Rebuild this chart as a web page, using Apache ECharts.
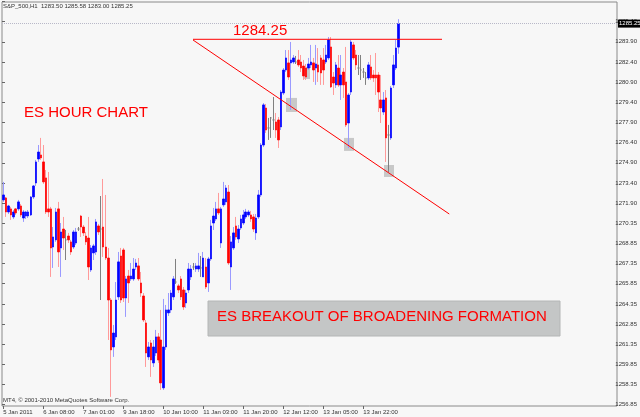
<!DOCTYPE html>
<html>
<head>
<meta charset="utf-8">
<script src="https://cdn.jsdelivr.net/npm/echarts@6/dist/echarts.min.js"></script>
<style>
html, body { margin: 0; padding: 0; background: #f7f7f7; }
#chart { width: 640px; height: 417px; }
</style>
</head>
<body>
<div id="chart"></div>
<script>
/* 时间轴标签，每16根K线一个 */
var xTickLabels = ['5 Jan 2011', '6 Jan 08:00', '7 Jan 01:00', '9 Jan 18:00', '10 Jan 10:00',
	'11 Jan 03:00', '11 Jan 20:00', '12 Jan 12:00', '13 Jan 05:00', '13 Jan 22:00'];
var barsPerLabel = 16;
var totalSlots = 246;

/* 价格轴标签（自下而上） */
var yTickLabels = ['1256.85', '1258.35', '1259.85', '1261.35', '1262.85', '1264.35', '1265.85',
	'1267.35', '1268.85', '1270.35', '1271.90', '1273.40', '1274.90', '1276.40', '1277.90',
	'1279.40', '1280.90', '1282.40', '1283.90', '1285.40'];

/* S&P_500 H1 */
var opens = [
	1272.11,1272.26,1271.21,1271.44,1270.84,1271.44,1271.44,1271.66,1270.76,1270.91,
	1270.91,1270.99,1272.33,1273.37,1275.16,1275.46,1274.94,1273.75,1271.44,1271.44,
	1268.60,1269.13,1271.44,1268.53,1269.94,1269.13,1269.42,1268.98,1268.60,1268.90,
	1269.94,1270.91,1270.09,1269.42,1269.27,1266.89,1268.16,1268.23,1270.17,1269.94,
	1270.09,1268.60,1267.78,1264.65,1261.15,1261.90,1264.88,1267.93,1268.38,1264.80,
	1266.44,1266.22,1266.22,1267.11,1267.19,1265.92,1264.95,1262.94,1260.41,1261.45,
	1259.96,1260.70,1261.90,1261.67,1258.10,1261.15,1263.69,1263.91,1264.88,1265.99,
	1265.70,1266.22,1265.40,1264.43,1265.40,1266.37,1267.11,1266.96,1266.96,1267.04,
	1266.37,1267.11,1265.92,1267.71,1270.39,1270.69,1271.44,1268.90,1271.74,1271.96,
	1272.70,1267.11,1268.53,1270.17,1269.20,1270.02,1270.39,1270.84,1270.99,1270.99,
	1270.84,1269.65,1270.84,1272.48,1276.20,1278.96,1277.47,1278.22,1278.07,1277.92,
	1278.07,1277.55,1280.08,1281.79,1282.32,1282.32,1282.39,1282.39,1282.54,1282.39,
	1282.09,1281.94,1281.94,1282.17,1282.32,1281.94,1282.17,1282.69,1282.54,1282.39,
	1282.69,1283.51,1281.27,1280.68,1281.94,1280.68,1281.64,1280.90,1277.84,1280.15,
	1283.66,1282.91,1281.94,1281.79,1281.64,1281.20,1281.20,1282.02,1281.42,1281.42,
	1281.42,1279.56,1278.66,1279.71,1276.95,1276.73,1280.68,1281.94,1283.50
];
var closes = [
	1272.48,1271.21,1271.66,1270.99,1271.21,1271.14,1271.96,1270.99,1271.21,1271.21,
	1271.21,1272.33,1273.15,1274.94,1275.68,1275.24,1273.45,1271.21,1271.21,1268.53,
	1269.35,1271.21,1268.23,1269.72,1269.27,1269.13,1269.13,1268.23,1269.72,1269.72,
	1269.94,1270.09,1269.65,1268.98,1267.11,1268.53,1268.68,1270.47,1269.72,1269.94,
	1268.60,1267.78,1264.65,1260.93,1262.19,1264.65,1267.49,1264.65,1264.80,1266.22,
	1265.92,1266.44,1266.96,1267.41,1266.22,1265.17,1263.16,1260.70,1261.15,1260.18,
	1261.15,1261.90,1260.18,1258.47,1261.15,1263.91,1263.91,1265.17,1266.22,1265.99,
	1265.40,1264.88,1264.13,1265.17,1266.96,1266.96,1267.11,1267.19,1267.19,1267.04,
	1267.78,1265.62,1267.71,1270.17,1270.91,1271.44,1271.14,1271.44,1272.18,1273.00,
	1267.41,1268.98,1269.65,1269.35,1269.94,1270.69,1270.99,1271.21,1271.21,1270.69,
	1269.94,1270.76,1272.48,1276.20,1279.19,1277.32,1277.47,1278.22,1278.07,1277.32,
	1276.58,1280.15,1281.79,1282.69,1281.27,1282.54,1282.69,1282.39,1282.17,1281.94,
	1281.35,1281.27,1282.24,1282.39,1281.79,1282.24,1281.64,1281.57,1281.79,1282.91,
	1284.03,1280.53,1280.82,1282.17,1280.68,1281.42,1280.68,1277.70,1279.93,1283.88,
	1282.69,1282.17,1281.94,1281.79,1281.64,1281.20,1282.17,1281.20,1281.20,1281.20,
	1280.15,1278.96,1279.56,1276.73,1276.95,1280.45,1282.17,1283.43,1285.25
];
var lows = [
	1271.96,1270.84,1271.06,1270.62,1270.69,1270.99,1271.29,1270.84,1270.47,1270.69,
	1270.76,1270.91,1272.18,1273.15,1274.94,1275.09,1273.30,1271.06,1270.84,1266.37,
	1267.04,1268.98,1267.11,1266.37,1268.38,1267.63,1268.90,1268.01,1268.45,1268.75,
	1269.80,1269.35,1269.42,1268.75,1266.14,1266.74,1267.63,1268.01,1269.50,1264.65,
	1267.86,1267.63,1261.67,1257.43,1260.41,1261.67,1264.65,1264.43,1264.50,1263.39,
	1264.43,1266.07,1266.07,1266.89,1266.07,1264.88,1263.01,1259.66,1260.18,1258.92,
	1259.66,1260.48,1259.96,1257.95,1257.95,1260.93,1263.46,1263.69,1264.65,1265.85,
	1265.17,1264.65,1263.91,1264.06,1265.17,1266.14,1266.89,1266.74,1266.74,1266.37,
	1266.37,1265.47,1265.25,1267.56,1269.87,1270.54,1270.99,1268.53,1271.59,1271.74,
	1267.26,1265.40,1268.38,1269.13,1268.90,1269.87,1270.24,1270.69,1270.84,1270.47,
	1269.72,1269.13,1270.69,1272.33,1276.05,1277.10,1276.58,1276.73,1277.32,1276.73,
	1275.98,1277.32,1279.93,1281.64,1281.05,1278.81,1282.24,1282.24,1282.02,1281.64,
	1281.05,1281.05,1281.79,1281.94,1280.90,1280.68,1280.90,1280.68,1280.68,1282.24,
	1282.54,1280.45,1279.93,1280.45,1280.53,1279.56,1279.71,1277.55,1275.98,1279.93,
	1282.54,1281.79,1281.42,1281.05,1281.20,1280.68,1281.05,1281.05,1280.90,1279.93,
	1278.66,1277.84,1278.44,1274.94,1274.19,1276.58,1280.45,1281.79,1283.00
];
var highs = [
	1273.45,1272.33,1271.74,1271.59,1271.36,1271.51,1272.11,1271.81,1271.36,1271.29,
	1271.36,1272.40,1273.22,1275.09,1276.20,1276.73,1276.20,1274.34,1274.19,1271.59,
	1270.09,1271.51,1271.96,1270.39,1270.84,1269.87,1269.65,1269.13,1269.87,1270.02,
	1270.09,1270.99,1270.24,1269.72,1270.84,1268.75,1268.83,1270.69,1270.32,1272.40,
	1273.67,1272.48,1268.53,1264.80,1262.79,1265.99,1268.23,1268.53,1268.53,1266.44,
	1266.89,1267.41,1267.78,1267.71,1267.78,1266.74,1265.17,1263.16,1261.52,1261.67,
	1261.67,1262.42,1262.19,1263.91,1264.73,1264.28,1265.17,1265.40,1266.44,1267.71,
	1265.85,1266.44,1265.62,1265.40,1267.41,1267.26,1267.41,1267.41,1268.16,1267.93,
	1268.23,1267.78,1267.86,1270.62,1271.51,1271.96,1272.63,1271.59,1273.45,1273.22,
	1273.22,1269.42,1270.09,1270.84,1270.24,1270.99,1271.36,1271.44,1271.36,1271.29,
	1271.06,1271.06,1272.85,1276.35,1279.33,1279.26,1278.22,1278.29,1279.78,1278.59,
	1278.29,1280.30,1281.94,1283.28,1283.28,1283.88,1282.91,1282.84,1283.28,1282.91,
	1282.54,1282.24,1282.69,1283.66,1282.69,1283.66,1283.43,1282.91,1283.43,1283.66,
	1284.25,1284.25,1281.64,1282.39,1282.91,1282.91,1281.94,1283.51,1280.08,1284.03,
	1283.88,1283.28,1282.91,1282.91,1281.94,1281.64,1282.39,1282.91,1281.79,1283.06,
	1281.64,1281.42,1280.15,1280.30,1277.70,1280.60,1282.91,1284.03,1285.58
];
var bidPrice = 1285.25;

/* 画线：趋势线、阻力线、灰色方块 */
var trendLine = [[75.9, 1284.03], [178.4, 1271.06]];
var resistLine = [[75.9, 1284.08], [175.5, 1284.08]];
var grayBoxes = [
	[[113.1, 1279.71], [117.5, 1278.66]],
	[[120.3, 1282.02], [122.7, 1281.12]],
	[[136.3, 1276.73], [140.3, 1275.76]],
	[[152.3, 1274.71], [156.3, 1273.82]]
];

var UP = '#0000ff', DOWN = '#ff0000', DOJI = '#808080';
var WICK_UP = '#9a9aff', WICK_DOWN = '#ff9a9a';
var FONT = '"Liberation Sans", Arial, sans-serif';

var viewConfig = {

	initialize: function(){
		var self = this;
		var chart = echarts.init(document.getElementById('chart'), null, {renderer: 'canvas'});
		chart.setOption(self.buildOption());
	},

	/*K线数据*/
	buildCandles: function(){
		var wicks = [], bodies = [];
		var dojiStyle = {color: DOJI, color0: DOJI, borderColor: DOJI, borderColor0: DOJI};
		for (var i = 0; i < opens.length; i++) {
			var o = opens[i], c = closes[i];
			var w = {value: [o, c, lows[i], highs[i]]};
			var b = {value: [o, c, Math.min(o, c), Math.max(o, c)]};
			if (o === c) {
				w.itemStyle = dojiStyle;
				b.itemStyle = dojiStyle;
			}
			wicks.push(w);
			bodies.push(b);
		}
		return {wicks: wicks, bodies: bodies};
	},

	buildOption: function(){
		var self = this;
		var candles = self.buildCandles();
		var cats = [];
		for (var i = 0; i < totalSlots; i++) cats.push(String(i));
		var showTick = function(idx){
			return idx % barsPerLabel === 0 && idx / barsPerLabel < xTickLabels.length;
		};
		var areas = [];
		for (var k = 0; k < grayBoxes.length; k++) {
			areas.push([{coord: grayBoxes[k][0]}, {coord: grayBoxes[k][1]}]);
		}

		return {
			animation: false,
			backgroundColor: '#f7f7f7',
			grid: [
				{left: 2, top: 2, right: 23, bottom: 11, show: true, borderColor: '#8a8a8a', borderWidth: 1, backgroundColor: '#f7f7f7'},
				{left: 2, top: 1.5, right: 23, bottom: 12.3, show: false}
			],
			xAxis: [
				{
					type: 'category', gridIndex: 0, data: cats, boundaryGap: true,
					axisLine: {show: false},
					axisTick: {show: true, interval: showTick, alignWithLabel: true, length: 3, lineStyle: {color: '#666'}},
					axisLabel: {
						interval: showTick, align: 'left', margin: 3, fontSize: 6, color: '#333', fontFamily: FONT,
						formatter: function(v, idx){ return xTickLabels[idx / barsPerLabel] || ''; }
					},
					splitLine: {show: false}
				},
				{type: 'value', gridIndex: 1, min: 0, max: 1, show: false},
				{type: 'value', gridIndex: 0, min: -0.5, max: totalSlots - 0.5, show: false}
			],
			yAxis: [
				{type: 'value', gridIndex: 0, min: 1256.75, max: 1286.86, show: false, scale: true},
				{
					type: 'value', gridIndex: 1, position: 'right', min: 0, max: 20, interval: 1,
					axisLine: {show: false},
					axisTick: {show: true, length: 3, lineStyle: {color: '#666'}},
					splitLine: {show: false},
					axisLabel: {
						margin: 2, fontSize: 6, color: '#333', fontFamily: FONT,
						formatter: function(v){ return yTickLabels[Math.round(v)] || ''; }
					}
				}
			],
			series: [
				{
					name: 'boxes', type: 'line', xAxisIndex: 2, yAxisIndex: 0, data: [], z: 1,
					markArea: {silent: true, itemStyle: {color: 'rgba(175,175,175,0.65)'}, data: areas}
				},
				{
					name: 'wick', type: 'candlestick', xAxisIndex: 0, yAxisIndex: 0, barWidth: 1, z: 2,
					itemStyle: {color: WICK_UP, color0: WICK_DOWN, borderColor: WICK_UP, borderColor0: WICK_DOWN, borderWidth: 1},
					data: candles.wicks
				},
				{
					name: 'body', type: 'candlestick', xAxisIndex: 0, yAxisIndex: 0, barWidth: 2, z: 3,
					itemStyle: {color: UP, color0: DOWN, borderColor: UP, borderColor0: DOWN, borderWidth: 0.7},
					data: candles.bodies,
					markLine: {
						silent: true, symbol: ['none', 'none'],
						lineStyle: {color: '#b8b8c8', type: 'dotted', width: 1},
						label: {
							show: true, position: 'end', distance: 1, formatter: String(bidPrice),
							backgroundColor: '#000', color: '#fff', fontSize: 6, fontFamily: FONT, padding: [1, 2, 1, 1]
						},
						data: [{yAxis: bidPrice}]
					}
				},
				{
					name: 'trend', type: 'line', xAxisIndex: 2, yAxisIndex: 0, data: trendLine, z: 4,
					symbol: 'none', lineStyle: {color: '#ff0000', width: 1}
				},
				{
					name: 'resist', type: 'line', xAxisIndex: 2, yAxisIndex: 0, data: resistLine, z: 4,
					symbol: 'none', lineStyle: {color: '#ff0000', width: 1}
				}
			],
			graphic: [
				{type: 'text', x: 3, y: 3, z: 10, style: {text: 'S&P_500,H1  1283.50 1285.58 1283.00 1285.25', fill: '#333', fontSize: 6, fontFamily: FONT}},
				{type: 'text', x: 3, y: 397, z: 10, style: {text: 'MT4, \u00a9 2001-2010 MetaQuotes Software Corp.', fill: '#333', fontSize: 6, fontFamily: FONT}},
				{type: 'text', x: 24, y: 113, z: 10, style: {text: 'ES HOUR CHART', fill: '#ff0000', fontSize: 15, fontFamily: FONT, verticalAlign: 'middle'}},
				{type: 'text', x: 233, y: 31, z: 10, style: {text: '1284.25', fill: '#ff0000', fontSize: 15, fontFamily: FONT, verticalAlign: 'middle'}},
				{type: 'rect', x: 208, y: 301, z: 9, shape: {width: 352, height: 35}, style: {fill: '#c4c6c6', stroke: '#b4b6b6', lineWidth: 1}},
				{type: 'text', x: 217, y: 317, z: 10, style: {text: 'ES BREAKOUT OF BROADENING FORMATION', fill: '#ff0000', fontSize: 15, fontFamily: FONT, verticalAlign: 'middle'}}
			]
		};
	}
};

viewConfig.initialize();
</script>
</body>
</html>
